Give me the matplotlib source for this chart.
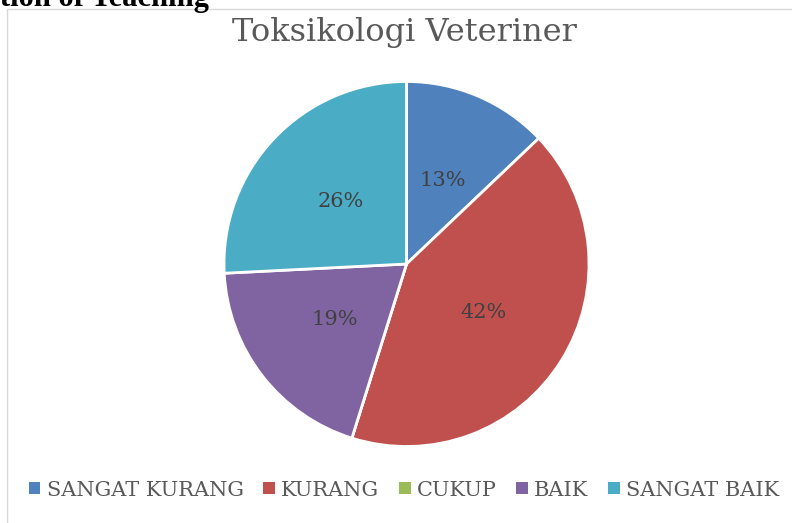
import matplotlib.pyplot as plt
from matplotlib.patches import Patch, Rectangle

# data
categories = ["SANGAT KURANG", "KURANG", "CUKUP", "BAIK", "SANGAT BAIK"]
counts = [4, 13, 0, 6, 8]
colors = ["#4F81BD", "#C0504D", "#9BBB59", "#8064A2", "#4BACC6"]
title = "Toksikologi Veteriner"
heading = "Evaluation of Teaching"

W, H = 792, 523


def main() -> None:
    fig = plt.figure(figsize=(W / 100, H / 100), dpi=100)
    fig.patch.set_facecolor("white")

    # cut-off heading from the page above the chart
    fig.text(209 / W, 1 - 6 / H, heading, ha="right", va="baseline",
             fontsize=22, fontweight="bold", family="Liberation Serif", color="black")

    # chart area border
    fig.patches.append(Rectangle((7 / W, -0.1), 1.2, 1 - 9 / H + 0.1,
                                 transform=fig.transFigure, fill=False,
                                 edgecolor="#D9D9D9", linewidth=1))

    cx, cy, r = 406.5, 264, 182.5
    ax = fig.add_axes([(cx - r) / W, (H - cy - r) / H, 2 * r / W, 2 * r / H])
    wedges, texts, autotexts = ax.pie(
        counts, colors=colors, startangle=90, counterclock=False,
        autopct=lambda p: f"{p:.0f}%" if p > 0 else "",
        pctdistance=0.5, wedgeprops=dict(edgecolor="white", linewidth=2),
        textprops=dict(fontsize=15, color="#404040", family="DejaVu Serif"),
    )
    ax.set_xlim(-1, 1)
    ax.set_ylim(-1, 1)
    ax.set_aspect("equal")
    ax.axis("off")

    fig.text(404 / W, 1 - 41 / H, title, ha="center", va="baseline",
             fontsize=23, color="#595959", family="DejaVu Serif")

    handles = [Patch(facecolor=c, edgecolor="none") for c in colors]
    fig.legend(handles, categories, loc="center", bbox_to_anchor=(404 / W, 1 - 490 / H),
               ncol=5, frameon=False, handlelength=0.55, handleheight=0.55,
               handletextpad=0.3, columnspacing=0.95,
               prop=dict(family="DejaVu Serif", size=15), labelcolor="#595959")

    fig.savefig("out.png", dpi=100)


if __name__ == "__main__":
    main()
